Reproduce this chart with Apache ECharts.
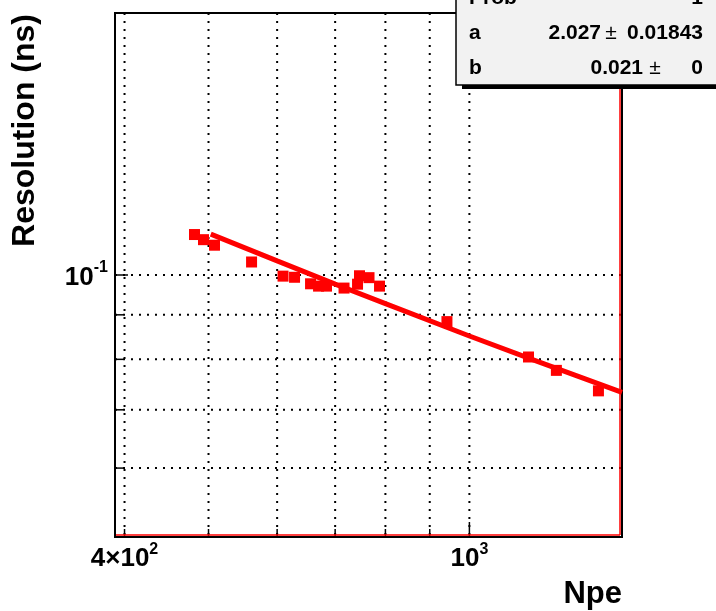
<!DOCTYPE html>
<html><head><meta charset="utf-8">
<script src="https://cdn.jsdelivr.net/npm/echarts@6/dist/echarts.min.js"></script>
<style>html,body{margin:0;padding:0;background:#fff}#c{width:716px;height:611px}</style>
</head><body><div id="c"></div>
<script>
// ---- data ----
const npe = [481.7, 493.4, 508.0, 560.6, 609.5, 628.4, 655.7, 669.8, 684.1, 716.7, 742.9, 746.8, 765.9, 787.6, 942.1, 1170, 1260, 1409];
const resolution = [0.1113, 0.1098, 0.1082, 0.1035, 0.0997, 0.0994, 0.0977, 0.0971, 0.0971, 0.0966, 0.0976, 0.0998, 0.0993, 0.0971, 0.0884, 0.0805, 0.0777, 0.0736];
const fitNpe = [503, 600, 700, 800, 1000, 1200, 1500];
const fitRes = [0.1114, 0.1038, 0.0976, 0.0927, 0.0851, 0.0795, 0.0733];
const xGridValues = [400, 500, 600, 700, 800, 900, 1000];
const yGridValues = [0.06, 0.07, 0.08, 0.09, 0.1];
const xMajorTicks = [1000];
const yMajorTicks = [0.1];
const xTickLabels = [{value: 400, base: '4\u00d710', sup: '2'}, {value: 1000, base: '10', sup: '3'}];
const yTickLabels = [{value: 0.1, base: '10', sup: '-1'}];
const xRange = [390, 1500];
const yRange = [0.05, 0.2];
const xTitle = 'Npe';
const yTitle = 'Resolution (ns)';
const statNames = ['Prob', 'a', 'b'];
const statValues = ['1', '2.027', '0.021'];
const statErrors = ['', '0.01843', '0'];

// ---- helpers ----
const FONT = '"Liberation Sans", Arial, Helvetica, sans-serif';
const mctx = document.createElement('canvas').getContext('2d');
function textW(t, size) { mctx.font = 'bold ' + size + 'px ' + FONT; return mctx.measureText(t).width; }
const LBL = 26, SUP = 16;
const dotted = {stroke: '#000', lineWidth: 2, lineDash: [2, 6]};

function xGridRender(params, api) {
  const cs = params.coordSys;
  const v = api.value(0);
  const px = api.coord([v, 0.1])[0];
  const top = cs.y, bottom = cs.y + cs.height;
  const major = xMajorTicks.indexOf(v) >= 0;
  const ch = [
    {type: 'line', shape: {x1: px, y1: top, x2: px, y2: bottom}, style: dotted},
    {type: 'line', shape: {x1: px, y1: bottom, x2: px, y2: bottom - (major ? 15 : 8)}, style: {stroke: '#000', lineWidth: 1.5}}
  ];
  const lab = xTickLabels.find(l => l.value === v);
  if (lab) {
    const wb = textW(lab.base, LBL), ws = textW(lab.sup, SUP);
    const left = px - (wb + ws) / 2;
    ch.push({type: 'text', style: {text: lab.base, x: left, y: bottom + 22, font: 'bold ' + LBL + 'px ' + FONT, fill: '#000', align: 'left', verticalAlign: 'middle'}});
    ch.push({type: 'text', style: {text: lab.sup, x: left + wb, y: bottom + 13, font: 'bold ' + SUP + 'px ' + FONT, fill: '#000', align: 'left', verticalAlign: 'middle'}});
  }
  return {type: 'group', children: ch};
}
function yGridRender(params, api) {
  const cs = params.coordSys;
  const v = api.value(1);
  const py = api.coord([500, v])[1];
  const left = cs.x, right = cs.x + cs.width;
  const major = yMajorTicks.indexOf(v) >= 0;
  const ch = [
    {type: 'line', shape: {x1: left, y1: py, x2: right, y2: py}, style: dotted},
    {type: 'line', shape: {x1: left, y1: py, x2: left + (major ? 13 : 8), y2: py}, style: {stroke: '#000', lineWidth: 1.5}}
  ];
  const lab = yTickLabels.find(l => l.value === v);
  if (lab) {
    const ws = textW(lab.sup, SUP);
    const edge = left - 7;
    ch.push({type: 'text', style: {text: lab.sup, x: edge, y: py - 7, font: 'bold ' + SUP + 'px ' + FONT, fill: '#000', align: 'right', verticalAlign: 'middle'}});
    ch.push({type: 'text', style: {text: lab.base, x: edge - ws, y: py + 3, font: 'bold ' + LBL + 'px ' + FONT, fill: '#000', align: 'right', verticalAlign: 'middle'}});
  }
  return {type: 'group', children: ch};
}
function frameRender(params, api) {
  const cs = params.coordSys;
  const r = cs.x + cs.width - 2, b = cs.y + cs.height - 2;
  return {type: 'group', children: [
    {type: 'line', shape: {x1: cs.x + 1, y1: b, x2: r, y2: b}, style: {stroke: '#ff0000', lineWidth: 1.5}},
    {type: 'line', shape: {x1: r, y1: cs.y + 1, x2: r, y2: b}, style: {stroke: '#ff0000', lineWidth: 1.5}}
  ]};
}

const chart = echarts.init(document.getElementById('c'), null, {renderer: 'canvas'});
const statFont = 'bold 21px ' + FONT;
const rowY = [-1.5, 33.5, 68.5];
const statGraphics = [
  {type: 'rect', shape: {x: 462, y: -20, width: 300, height: 109}, style: {fill: '#000'}, z: 100},
  {type: 'rect', shape: {x: 456, y: -20, width: 300, height: 105}, style: {fill: '#f2f2f2', stroke: '#000', lineWidth: 1.5}, z: 101}
];
statNames.forEach((n, i) => {
  statGraphics.push({type: 'text', z: 102, style: {text: n, x: 469, y: rowY[i], font: statFont, fill: '#000', align: 'left', verticalAlign: 'middle'}});
  if (statErrors[i] === '') {
    statGraphics.push({type: 'text', z: 102, style: {text: statValues[i], x: 703, y: rowY[i], font: statFont, fill: '#000', align: 'right', verticalAlign: 'middle'}});
  } else if (statErrors[i].length > 2) {
    statGraphics.push({type: 'text', z: 102, style: {text: statErrors[i], x: 703, y: rowY[i], font: statFont, fill: '#000', align: 'right', verticalAlign: 'middle'}});
    statGraphics.push({type: 'text', z: 102, style: {text: '\u00b1', x: 611, y: rowY[i], font: '21px ' + FONT, fill: '#000', align: 'center', verticalAlign: 'middle'}});
    statGraphics.push({type: 'text', z: 102, style: {text: statValues[i], x: 601, y: rowY[i], font: statFont, fill: '#000', align: 'right', verticalAlign: 'middle'}});
  } else {
    statGraphics.push({type: 'text', z: 102, style: {text: statErrors[i], x: 703, y: rowY[i], font: statFont, fill: '#000', align: 'right', verticalAlign: 'middle'}});
    statGraphics.push({type: 'text', z: 102, style: {text: '\u00b1', x: 655, y: rowY[i], font: '21px ' + FONT, fill: '#000', align: 'center', verticalAlign: 'middle'}});
    statGraphics.push({type: 'text', z: 102, style: {text: statValues[i], x: 643, y: rowY[i], font: statFont, fill: '#000', align: 'right', verticalAlign: 'middle'}});
  }
});

chart.setOption({
  animation: false,
  backgroundColor: '#fff',
  grid: {left: 115, top: 13, right: 94, bottom: 74, show: true, borderColor: '#000', borderWidth: 2, containLabel: false},
  xAxis: {type: 'log', logBase: 10, min: xRange[0], max: xRange[1],
    axisLine: {show: false}, axisTick: {show: false}, axisLabel: {show: false}, splitLine: {show: false}},
  yAxis: {type: 'log', logBase: 10, min: yRange[0], max: yRange[1],
    axisLine: {show: false}, axisTick: {show: false}, axisLabel: {show: false}, splitLine: {show: false}},
  graphic: [
    {type: 'text', z: 50, rotation: Math.PI / 2, x: 25, y: 14,
      style: {text: yTitle, font: 'bold 32px ' + FONT, fill: '#000', align: 'right', verticalAlign: 'middle'}},
    {type: 'text', z: 50, x: 622, y: 594,
      style: {text: xTitle, font: 'bold 31px ' + FONT, fill: '#000', align: 'right', verticalAlign: 'middle'}}
  ].concat(statGraphics),
  series: [
    {type: 'custom', z: 1, silent: true, clip: false, renderItem: xGridRender, data: xGridValues.map(v => [v, 0.1])},
    {type: 'custom', z: 1, silent: true, clip: false, renderItem: yGridRender, data: yGridValues.map(v => [500, v])},
    {type: 'custom', z: 2, silent: true, clip: false, renderItem: frameRender, data: [[xRange[1], yRange[0]]]},
    {type: 'scatter', z: 3, symbol: 'rect', symbolSize: 11, itemStyle: {color: '#ff0000', opacity: 1},
      data: npe.map((n, i) => [n, resolution[i]])},
    {type: 'line', z: 4, showSymbol: false, symbol: 'none', lineStyle: {color: '#ff0000', width: 5},
      data: fitNpe.map((n, i) => [n, fitRes[i]])}
  ]
});
</script>
</body></html>
